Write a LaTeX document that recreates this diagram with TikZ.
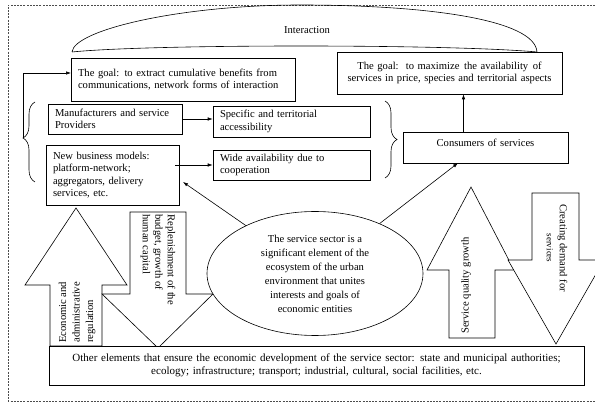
\documentclass[tikz,border=0pt]{standalone}
\usepackage{fontspec}
\setmainfont{Liberation Serif}
\usetikzlibrary{arrows.meta,shapes.geometric,decorations.pathreplacing}

\begin{document}
\begin{tikzpicture}[x=1pt,y=-1pt,
  line width=0.6pt,
  every node/.style={font=\fontsize{10.6}{12.5}\selectfont},
  box/.style={draw, fill=white, inner xsep=7pt, inner ysep=0pt, align=left},
  arr/.style={-{Latex[length=5pt,width=3.5pt]}},
  bigarrow/.style={draw, fill=white, line join=miter},
  txt/.style={inner sep=0pt},
  dashframe/.style={draw=black!70, line width=0.5pt, dash pattern=on 2pt off 1.2pt},
  lbrace/.style={decorate, decoration={brace, amplitude=12pt, aspect=0.55}},
  rbrace/.style={decorate, decoration={brace, amplitude=12pt, aspect=0.5}},
]
\useasboundingbox (0,0) rectangle (595,403);
\clip (0,0) rectangle (595,403);

% dashed frame
\draw[dashframe] (595,5) -- (8,5) -- (8,401) -- (595,401);

% interaction arc over the two goals
\coordinate (iaL) at (72,52);
\coordinate (iaR) at (537,52);
\draw (iaL) .. controls (74,30) and (180,5) .. (300,5)
            .. controls (430,5) and (535,20) .. (iaR)
            .. controls (450,44) and (150,44) .. (iaL);
\node (inter) at (307,30) {Interaction};

% goal boxes
\node[box, text width=210pt, minimum height=43pt] (goal1) at (183,79.5)
  {The goal: to extract cumulative benefits from\\communications, network forms of interaction};
\node[box, align=center, inner xsep=2pt, text width=221pt, minimum height=42pt] (goal2) at (449.5,73)
  {The goal:\hspace{2pt} to maximize\hspace{1pt} the availability\hspace{1pt} of\\services in price, species and territorial aspects};

% participants
\node[box, text width=120pt, minimum height=30pt] (manuf) at (115,119)
  {Manufacturers and service\\Providers};
\node[box, text width=143pt, minimum height=31pt] (spec) at (291.5,121.5)
  {Specific and territorial\\accessibility};
\node[box, text width=119pt, minimum height=60pt] (newbiz) at (112.5,175)
  {New business models:\\platform-network;\\aggregators, delivery\\services, etc.};
\node[box, text width=143pt, minimum height=30pt] (wide) at (291.5,165)
  {Wide availability due to\\cooperation};
\node[box, align=center, text width=151pt, minimum height=31pt, text height=7pt, text depth=9pt] (cons) at (485.5,147.5)
  {Consumers of services};

% braces
\draw[lbrace] (35,182) -- (35,102);
\draw[rbrace] (385,101) -- (385,178);
\coordinate (ltip) at (23,138);
\coordinate (g1in) at (71,73);

% connectors between boxes
\draw[arr] (ltip) |- (g1in);
\draw[arr] (manuf.east) -- (manuf.east -| spec.west);
\draw[arr] ([xshift=-4pt]newbiz.east |- wide.west) -- (wide.west);
\draw[arr] ([xshift=-22pt]cons.north) -- ([xshift=-22pt]cons.north |- goal2.south);

% wide arrows
\draw[bigarrow] (50,346) -- (50,285) -- (25,285) -- (76,208) -- (127,285) -- (102,285) -- (102,346) -- cycle;
\draw[bigarrow] (130,212) -- (186,212) -- (186,294) -- (213,294) -- (158,348) -- (102,294) -- (130,294) -- cycle;
\draw[bigarrow] (449,338) -- (449,270) -- (427,270) -- (471,187) -- (514,270) -- (495,270) -- (495,338) -- cycle;
\draw[bigarrow] (532,193) -- (579,193) -- (579,260) -- (604,260) -- (556,344) -- (508,260) -- (532,260) -- cycle;

\node[txt, rotate=90, anchor=west, align=left, font=\fontsize{10.6}{13.5}\selectfont] (econ) at (77,343)
  {Economic and\\administrative\\regulation};
\node[txt, rotate=-90, anchor=west, align=left, font=\fontsize{10.6}{12.5}\selectfont] (repl) at (158,214)
  {Replenishment of the\\budget, growth of\\human capital};
\node[txt, rotate=90, anchor=west] (sqg) at (466,334) {Service quality growth};
\node[txt, rotate=-90, align=center, font=\fontsize{10.6}{13}\selectfont] (cdem) at (557,248)
  {Creating demand for\\{\fontsize{9}{13}\selectfont services}};

% central ellipse
\node[draw, fill=white, ellipse, minimum width=216pt, minimum height=124pt, inner sep=0pt,
      align=center, font=\fontsize{10.6}{14}\selectfont] (ell) at (315,273.5)
  {The service sector is a\\significant element of the\\ecosystem of the urban\\environment that unites\\interests and goals of\\economic entities};

\coordinate (nbin) at (183,182);
\coordinate (csin) at (458,163);
\draw[arr] (ell) -- (nbin);
\draw[arr] (ell) -- (csin);

% base box
\node[box, align=center, text width=521pt, minimum height=39pt, font=\fontsize{11}{13.5}\selectfont] (base) at (316.5,365.5)
  {Other elements that ensure the economic development of the service sector: state and municipal authorities;\\ecology; infrastructure; transport; industrial, cultural, social facilities, etc.};

\end{tikzpicture}
\end{document}
